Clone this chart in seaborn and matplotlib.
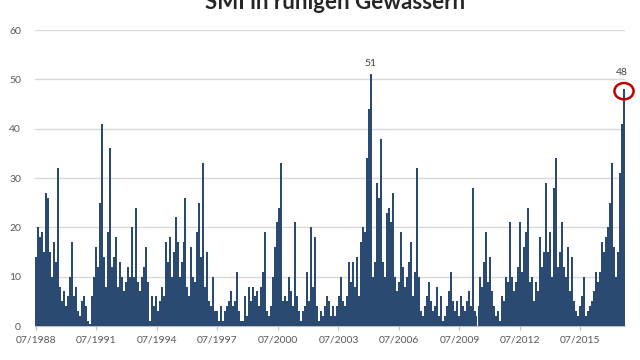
import numpy as np
import pandas as pd
import seaborn as sns
import matplotlib
matplotlib.use("Agg")
import matplotlib.pyplot as plt
from matplotlib.patches import Ellipse

title = "SMI in ruhigen Gewässern"
tick_labels = ["07/1988", "07/1991", "07/1994", "07/1997", "07/2000",
               "07/2003", "07/2006", "07/2009", "07/2012", "07/2015"]
tick_years = [1988.5, 1991.5, 1994.5, 1997.5, 2000.5,
              2003.5, 2006.5, 2009.5, 2012.5, 2015.5]

values = [
    14, 20, 18, 19, 15, 27, 26, 15, 10, 17, 13, 32, 8, 5, 7,
    4, 6, 10, 17, 6,
    8, 3, 2, 5, 6,
    4, 1, 0.5, 6, 10,
    16, 12, 25, 41, 14,
    8, 19, 36, 12, 14,
    18, 8, 13, 10, 7,
    9, 12, 10, 20, 10,
    24, 9, 7, 10, 12,
    16, 9, 1, 6, 4,
    6, 3, 5, 8, 6,
    17, 13, 18, 10, 15,
    22, 17, 10, 13, 17,
    26, 8, 6, 16, 10,
    9, 19, 25, 14, 33,
    8, 15, 5, 4, 10,
    3, 3, 1, 4, 1,
    3, 4, 5, 7, 4,
    5, 11, 3, 1, 1,
    6, 2, 8, 5, 8,
    6, 7, 4, 8, 11,
    19, 3, 2, 4, 10,
    16, 21, 24, 33, 5,
    6, 5, 10, 7, 4,
    21, 6, 3, 1, 3,
    4, 11, 5, 20, 8,
    18, 4, 1, 3, 2,
    4, 6, 5, 2, 4,
    2, 4, 6, 10, 5,
    4, 6, 13, 9, 13,
    8, 14, 6, 17, 20,
    19, 34, 44, 51, 10,
    13, 29, 26, 38, 13,
    10, 23, 24, 21, 27,
    10, 7, 9, 19, 12,
    8, 10, 13, 17, 6,
    11, 32, 10, 3, 2,
    4, 6, 9, 5, 3,
    4, 8, 2, 6, 1,
    2, 4, 7, 11, 5,
    3, 5, 2, 6, 4,
    3, 5, 7, 4, 28,
    3, 2, 4, 10, 8,
    13, 19, 9, 14, 7,
    4, 2, 3, 1, 6,
    5, 10, 9, 21, 10,
    7, 9, 12, 21, 11,
    16, 19, 24, 9, 10,
    5, 9, 7, 18, 12,
    15, 29, 15, 19, 10,
    28, 34, 12, 15, 21,
    12, 10, 16, 7, 14,
    5, 3, 2, 4, 6,
    10, 2, 3, 4, 5,
    7, 11, 9, 11, 17,
    15, 18, 20, 25, 33,
    16, 10, 15, 31, 41,
    48,
]

n = len(values)
step = 3.0 / 30.35
years = 1988.5 + np.arange(n) * step
df = pd.DataFrame({"year": years, "value": values})

bar_color = "#1F497D"
text_gray = "#595959"

fig = plt.figure(figsize=(6.4, 3.6), dpi=100)
ax = fig.add_axes([35 / 640, 1 - 326 / 360, 590 / 640, 296 / 360])

sns.barplot(data=df, x="year", y="value", native_scale=True, width=1.0,
            color=bar_color, linewidth=0, errorbar=None, ax=ax, zorder=3)

ax.set_ylim(0, 60)
ax.set_yticks(range(0, 61, 10))
ax.set_xlim(years[0] - step / 2, years[-1] + step / 2)
ax.set_xticks(tick_years)
ax.set_xticklabels(tick_labels)
ax.grid(axis="y", color="#D9D9D9", linewidth=1.0, zorder=0)
ax.set_axisbelow(True)
for s in ["top", "right", "left"]:
    ax.spines[s].set_visible(False)
ax.spines["bottom"].set_color("#BFBFBF")
ax.tick_params(axis="x", colors=text_gray, labelsize=7.5, length=3, width=0.8,
               color="#BFBFBF", pad=4)
ax.tick_params(axis="y", colors=text_gray, labelsize=7.5, length=0, pad=10)
for lab in ax.get_xticklabels() + ax.get_yticklabels():
    lab.set_fontfamily("Lato")
    lab.set_color(text_gray)
ax.set_xlabel("")
ax.set_ylabel("")

# annotations for maxima
i51 = values.index(51)
ax.text(years[i51], 52.3, "51", ha="center", va="bottom", fontsize=7.5,
        color="#404040", family="Lato")
ax.text(years[-1] - 0.1, 50.5, "48", ha="center", va="bottom", fontsize=7.5,
        color="#404040", family="Lato")
ax.add_patch(Ellipse((years[-1], 47.6), 0.95, 3.3, fill=False,
                     edgecolor="#C00000", linewidth=1.8, zorder=5,
                     clip_on=False))

fig.text(335 / 640, 1 - 9 / 360, title, ha="center", va="baseline",
         fontsize=16, fontweight="bold", family="Lato", color="#262626")

fig.savefig("out.png", dpi=100)
